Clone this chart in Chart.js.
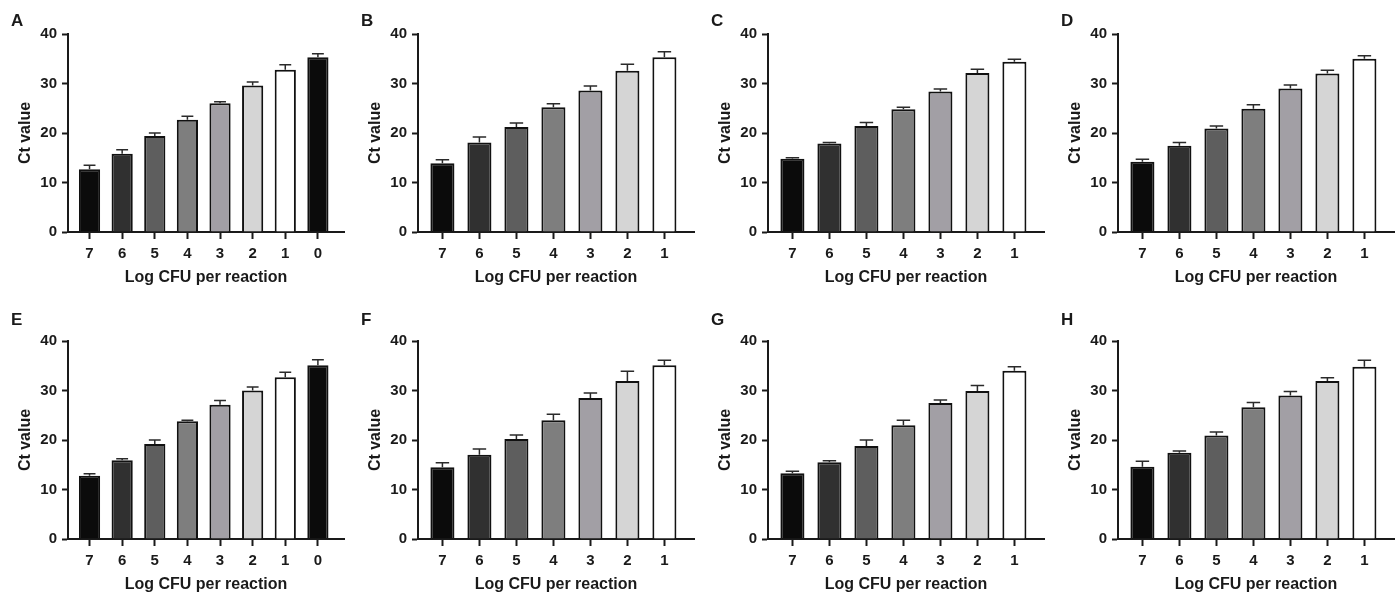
<!DOCTYPE html>
<html>
<head>
<meta charset="utf-8">
<script src="https://cdn.jsdelivr.net/npm/chart.js@4.4.1/dist/chart.umd.min.js"></script>
<style>
	body { margin: 0; background: #fff; width: 1400px; height: 597px; position: relative; overflow: hidden; font-family: "Liberation Sans", Arial, sans-serif; }
	canvas { position: absolute; }
	.letter { position: absolute; font-weight: bold; font-size: 17px; line-height: 17px; color: #1a1a1a; }
</style>
</head>
<body>
<script>
// tick labels
var ticks8 = ['7', '6', '5', '4', '3', '2', '1', '0'];
var ticks7 = ['7', '6', '5', '4', '3', '2', '1'];

// mean Ct and SD per panel
var meanA = [12.7, 15.8, 19.4, 22.7, 26.0, 29.6, 32.8, 35.3];
var sdA = [0.8, 0.8, 0.6, 0.7, 0.3, 0.7, 1.0, 0.7];
var meanB = [13.9, 18.1, 21.2, 25.2, 28.6, 32.6, 35.3];
var sdB = [0.7, 1.1, 0.8, 0.7, 0.9, 1.3, 1.1];
var meanC = [14.8, 17.9, 21.4, 24.8, 28.4, 32.1, 34.4];
var sdC = [0.2, 0.2, 0.7, 0.4, 0.5, 0.8, 0.5];
var meanD = [14.2, 17.4, 20.9, 24.9, 29.0, 32.0, 35.0];
var sdD = [0.5, 0.7, 0.5, 0.8, 0.7, 0.7, 0.6];
var meanE = [12.8, 15.9, 19.2, 23.8, 27.1, 30.0, 32.7, 35.1];
var sdE = [0.4, 0.3, 0.8, 0.2, 0.9, 0.7, 1.0, 1.1];
var meanF = [14.5, 17.0, 20.2, 24.0, 28.5, 31.9, 35.1];
var sdF = [0.9, 1.2, 0.8, 1.2, 1.0, 2.0, 1.0];
var meanG = [13.3, 15.5, 18.8, 23.0, 27.5, 29.9, 34.0];
var sdG = [0.4, 0.3, 1.2, 1.0, 0.6, 1.1, 0.8];
var meanH = [14.6, 17.4, 20.9, 26.6, 29.0, 31.9, 34.8];
var sdH = [1.1, 0.4, 0.7, 1.0, 0.8, 0.7, 1.3];

var barColors = ['#0b0b0b', '#303030', '#5e5e5e', '#7e7e7e', '#a29fa5', '#d5d5d5', '#ffffff', '#0b0b0b'];

var panels = [
	{ name: 'A', labels: ticks8, mean: meanA, sd: sdA, col: 0, row: 0 },
	{ name: 'B', labels: ticks7, mean: meanB, sd: sdB, col: 1, row: 0 },
	{ name: 'C', labels: ticks7, mean: meanC, sd: sdC, col: 2, row: 0 },
	{ name: 'D', labels: ticks7, mean: meanD, sd: sdD, col: 3, row: 0 },
	{ name: 'E', labels: ticks8, mean: meanE, sd: sdE, col: 0, row: 1 },
	{ name: 'F', labels: ticks7, mean: meanF, sd: sdF, col: 1, row: 1 },
	{ name: 'G', labels: ticks7, mean: meanG, sd: sdG, col: 2, row: 1 },
	{ name: 'H', labels: ticks7, mean: meanH, sd: sdH, col: 3, row: 1 }
];

var ink = '#1a1a1a';
var rowTop = [0, 307];
var letterTop = [12, 311];

// upper SD whiskers on top of the bars
var errorBars = {
	id: 'errorBars',
	afterDatasetsDraw: function(chart, args, opts) {
		var ctx = chart.ctx;
		var yScale = chart.scales.y;
		var meta = chart.getDatasetMeta(0);
		var data = chart.data.datasets[0].data;
		meta.data.forEach(function(bar, i) {
			var top = yScale.getPixelForValue(data[i].y + opts.sd[i]);
			var half = bar.width * 0.28;
			ctx.save();
			ctx.strokeStyle = '#2a2a2a';
			ctx.lineWidth = 1.5;
			ctx.beginPath();
			ctx.moveTo(bar.x, bar.y);
			ctx.lineTo(bar.x, top);
			ctx.moveTo(bar.x - half, top);
			ctx.lineTo(bar.x + half, top);
			ctx.stroke();
			ctx.restore();
		});
	}
};

panels.forEach(function(p) {
	var canvas = document.createElement('canvas');
	canvas.width = 350;
	canvas.height = 290;
	canvas.style.left = (p.col * 350) + 'px';
	canvas.style.top = rowTop[p.row] + 'px';
	document.body.appendChild(canvas);

	var letter = document.createElement('div');
	letter.className = 'letter';
	letter.textContent = p.name;
	letter.style.left = (p.col * 350 + 11) + 'px';
	letter.style.top = letterTop[p.row] + 'px';
	document.body.appendChild(letter);

	var n = p.labels.length;
	var points = p.mean.map(function(v, i) { return { x: i, y: v }; });
	var tickFont = { family: 'Liberation Sans', weight: 'bold', size: 15 };
	var titleFont = { family: 'Liberation Sans', weight: 'bold', size: 16 };

	new Chart(canvas.getContext('2d'), {
		type: 'bar',
		data: {
			datasets: [{
				data: points,
				backgroundColor: barColors.slice(0, n),
				borderColor: '#111',
				borderWidth: 2,
				categoryPercentage: 1,
				barPercentage: 0.65
			}]
		},
		options: {
			responsive: false,
			animation: false,
			layout: { padding: { top: 34, right: 6, bottom: 0, left: 0 } },
			plugins: {
				legend: { display: false },
				tooltip: { enabled: false },
				errorBars: { sd: p.sd }
			},
			scales: {
				x: {
					type: 'linear',
					min: -0.66,
					max: n - 0.2,
					offset: false,
					// one tick per bar
					afterBuildTicks: function(s) {
						s.ticks = p.labels.map(function(l, i) { return { value: i }; });
					},
					ticks: {
						autoSkip: false,
						maxRotation: 0,
						padding: 6,
						color: ink,
						font: tickFont,
						callback: function(v) { return p.labels[v]; }
					},
					grid: { offset: false, drawOnChartArea: false, tickLength: 7, tickWidth: 2, tickColor: ink },
					border: { display: true, color: ink, width: 2 },
					title: { display: true, text: 'Log CFU per reaction', color: ink, font: titleFont, padding: { top: 0, bottom: 3 } },
					afterFit: function(s) { s.height = 58; }
				},
				y: {
					min: 0,
					max: 40,
					ticks: { stepSize: 10, padding: 5, color: ink, font: tickFont },
					grid: { drawOnChartArea: false, tickLength: 6, tickWidth: 2, tickColor: ink },
					border: { display: true, color: ink, width: 2 },
					title: { display: true, text: 'Ct value', color: ink, font: titleFont, padding: { top: 16, bottom: 0 } },
					afterFit: function(s) { s.width = 68; }
				}
			}
		},
		plugins: [errorBars]
	});
});
</script>
</body>
</html>
